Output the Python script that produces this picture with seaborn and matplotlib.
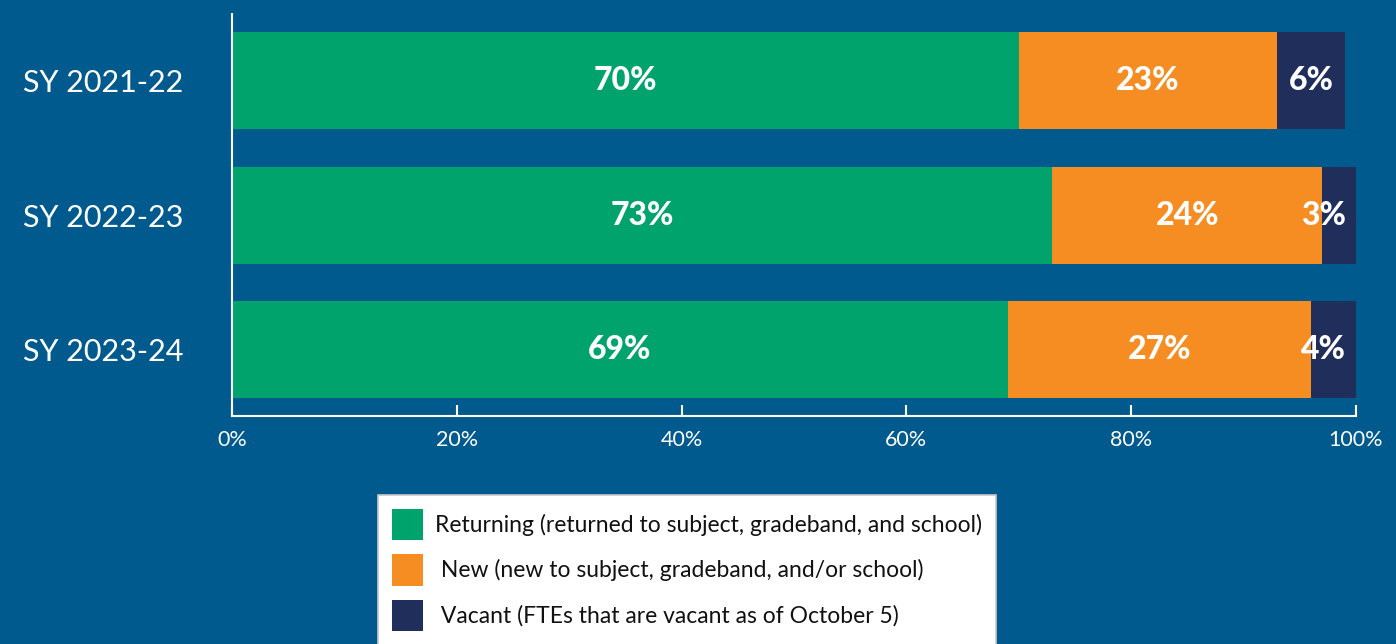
import matplotlib
matplotlib.use("Agg")
import matplotlib.pyplot as plt
import seaborn as sns
import pandas as pd

# Staffing composition by school year (percent of FTEs)
years = ["SY 2021-22", "SY 2022-23", "SY 2023-24"]
returning = [70, 73, 69]
new = [23, 24, 27]
vacant = [6, 3, 4]

series_names = [
    "Returning (returned to subject, gradeband, and school)",
    " New (new to subject, gradeband, and/or school)",
    " Vacant (FTEs that are vacant as of October 5)",
]
series_colors = ["#00A36C", "#F68D22", "#1F2E5A"]
x_ticks = [0, 20, 40, 60, 80, 100]
x_tick_labels = ["0%", "20%", "40%", "60%", "80%", "100%"]

BG = "#005A8E"

sns.set_theme(style="white")
plt.rcParams["font.family"] = ["Lato", "DejaVu Sans"]

df = pd.DataFrame({"year": years, "returning": returning, "new": new, "vacant": vacant})
df["cum_ret"] = df["returning"]
df["cum_new"] = df["returning"] + df["new"]
df["cum_vac"] = df["cum_new"] + df["vacant"]

fig = plt.figure(figsize=(13.96, 6.44), dpi=100, facecolor=BG)
ax = fig.add_axes([0.1662, 0.354, 0.8051, 0.624])
ax.set_facecolor(BG)

# Stack by overlaying cumulative totals, widest first
for col, color in zip(["cum_vac", "cum_new", "cum_ret"], series_colors[::-1]):
    sns.barplot(data=df, x=col, y="year", orient="h", color=color,
                saturation=1, width=0.72, ax=ax, errorbar=None, linewidth=0)

ax.set_xlim(0, 100)
ax.set_ylim(2.49, -0.49)

# Value labels inside segments; narrow end segments get their label nudged inward
for i in range(len(years)):
    starts = [0, returning[i], returning[i] + new[i]]
    vals = [returning[i], new[i], vacant[i]]
    for s, v in zip(starts, vals):
        xpos = s + v / 2
        if v < 5:
            xpos = min(xpos, 97.1)
        ax.text(xpos, i, f"{v}%", ha="center", va="center", color="white",
                fontsize=23, fontweight="black")

ax.set_xticks(x_ticks)
ax.set_xticklabels(x_tick_labels)
ax.set_xlabel("")
ax.set_ylabel("")
ax.tick_params(axis="x", colors="white", labelcolor="white", labelsize=15.5,
               direction="in", length=8, width=1.5, pad=10, bottom=True)
ax.tick_params(axis="y", left=False, labelcolor="white", labelsize=22, pad=29)

for side in ["top", "right"]:
    ax.spines[side].set_visible(False)
for side in ["left", "bottom"]:
    ax.spines[side].set_color("white")
    ax.spines[side].set_linewidth(1.5)

handles = [plt.Rectangle((0, 0), 1, 1, facecolor=c, edgecolor="none") for c in series_colors]
leg = fig.legend(handles, series_names, loc="upper left",
                 bbox_to_anchor=(378 / 1396, 1 - 495 / 644),
                 frameon=True, fancybox=False, fontsize=16.5,
                 handlelength=1.35, handleheight=1.75, handletextpad=0.55,
                 labelspacing=0.6, borderpad=0.6, borderaxespad=0)
leg.get_frame().set_facecolor("white")
leg.get_frame().set_edgecolor("#c8c8c8")
leg.get_frame().set_linewidth(1.2)
leg.get_frame().set_alpha(1)
for t in leg.get_texts():
    t.set_color("#111111")

fig.savefig("out.png", dpi=100, facecolor=BG)
